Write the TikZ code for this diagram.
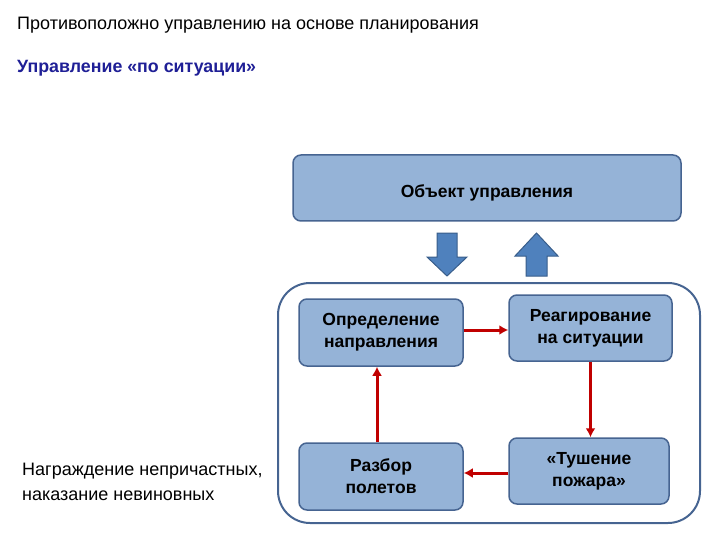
\documentclass[tikz,border=0pt]{standalone}
\usepackage{fontspec}
\setmainfont{Liberation Sans}
\usetikzlibrary{arrows.meta,calc}
\definecolor{boxfill}{RGB}{149,179,215}
\definecolor{boxline}{RGB}{70,100,145}
\definecolor{arrfill}{RGB}{79,129,189}
\definecolor{arrline}{RGB}{56,93,138}
\definecolor{navy}{RGB}{31,31,150}
\definecolor{redline}{RGB}{192,0,0}
\tikzset{
  box/.style={draw=boxline, line width=1.5pt, fill=boxfill, rounded corners=8pt,
    align=center, font=\fontsize{17.5}{22}\selectfont\bfseries, inner sep=0pt},
  flow/.style={draw=redline, line width=3pt, -{Latex[length=9pt,width=10pt]}},
  bigarrow/.style={draw=arrline, line width=1pt, fill=arrfill},
  plain/.style={anchor=west, align=left, inner sep=0pt}
}
\begin{document}
\begin{tikzpicture}[x=1pt,y=-1pt]
\useasboundingbox (0,0) rectangle (720,540);
\node[plain, font=\fontsize{18}{21}\selectfont] (title) at (17,25) {Противоположно управлению на основе планирования};
\node[plain, font=\fontsize{17.8}{21}\selectfont\bfseries, text=navy] (sub) at (17,68) {Управление «по ситуации»};
% object box
\node[box, minimum width=388pt, minimum height=66pt] (obj) at (487,188) {};
\node[font=\fontsize{17.5}{22}\selectfont\bfseries, inner sep=0pt] (objtext) at ([yshift=-5pt]obj.center) {Объект управления};
% big arrows
\draw[bigarrow] (437,233) -- (457,233) -- (457,257) -- (467,257) -- (447,276) -- (427,257) -- (437,257) -- cycle;
\draw[bigarrow] (526,276) -- (547,276) -- (547,256) -- (558,256) -- (536.5,233) -- (515,256) -- (526,256) -- cycle;
% container
\draw[draw=boxline, line width=2pt, rounded corners=32pt] (278,283) rectangle (700,523);
% boxes
\node[box, minimum width=164pt, minimum height=67pt] (b1) at (381,332.5) {Определение\\направления};
\node[box, minimum width=163pt, minimum height=66pt] (b2) at (590.5,328) {Реагирование\\на ситуации};
\node[box, minimum width=160pt, minimum height=66pt] (b3) at (589,471) {«Тушение\\пожара»};
\node[box, minimum width=164pt, minimum height=67pt] (b4) at (381,476.5) {Разбор\\полетов};
% connectors
\draw[flow] (b1.east |- 0,330) -- (b2.west |- 0,330);
\draw[flow] (b2.south) -- (b2.south |- b3.north);
\draw[flow] (b3.west |- 0,473) -- (b4.east |- 0,473);
\draw[flow] ([xshift=-4pt]b4.north) -- ([xshift=-4pt]b1.south);
% side text
\node[plain, font=\fontsize{18}{25}\selectfont] (side) at (22,482) {Награждение непричастных,\\наказание невиновных};
\end{tikzpicture}
\end{document}
